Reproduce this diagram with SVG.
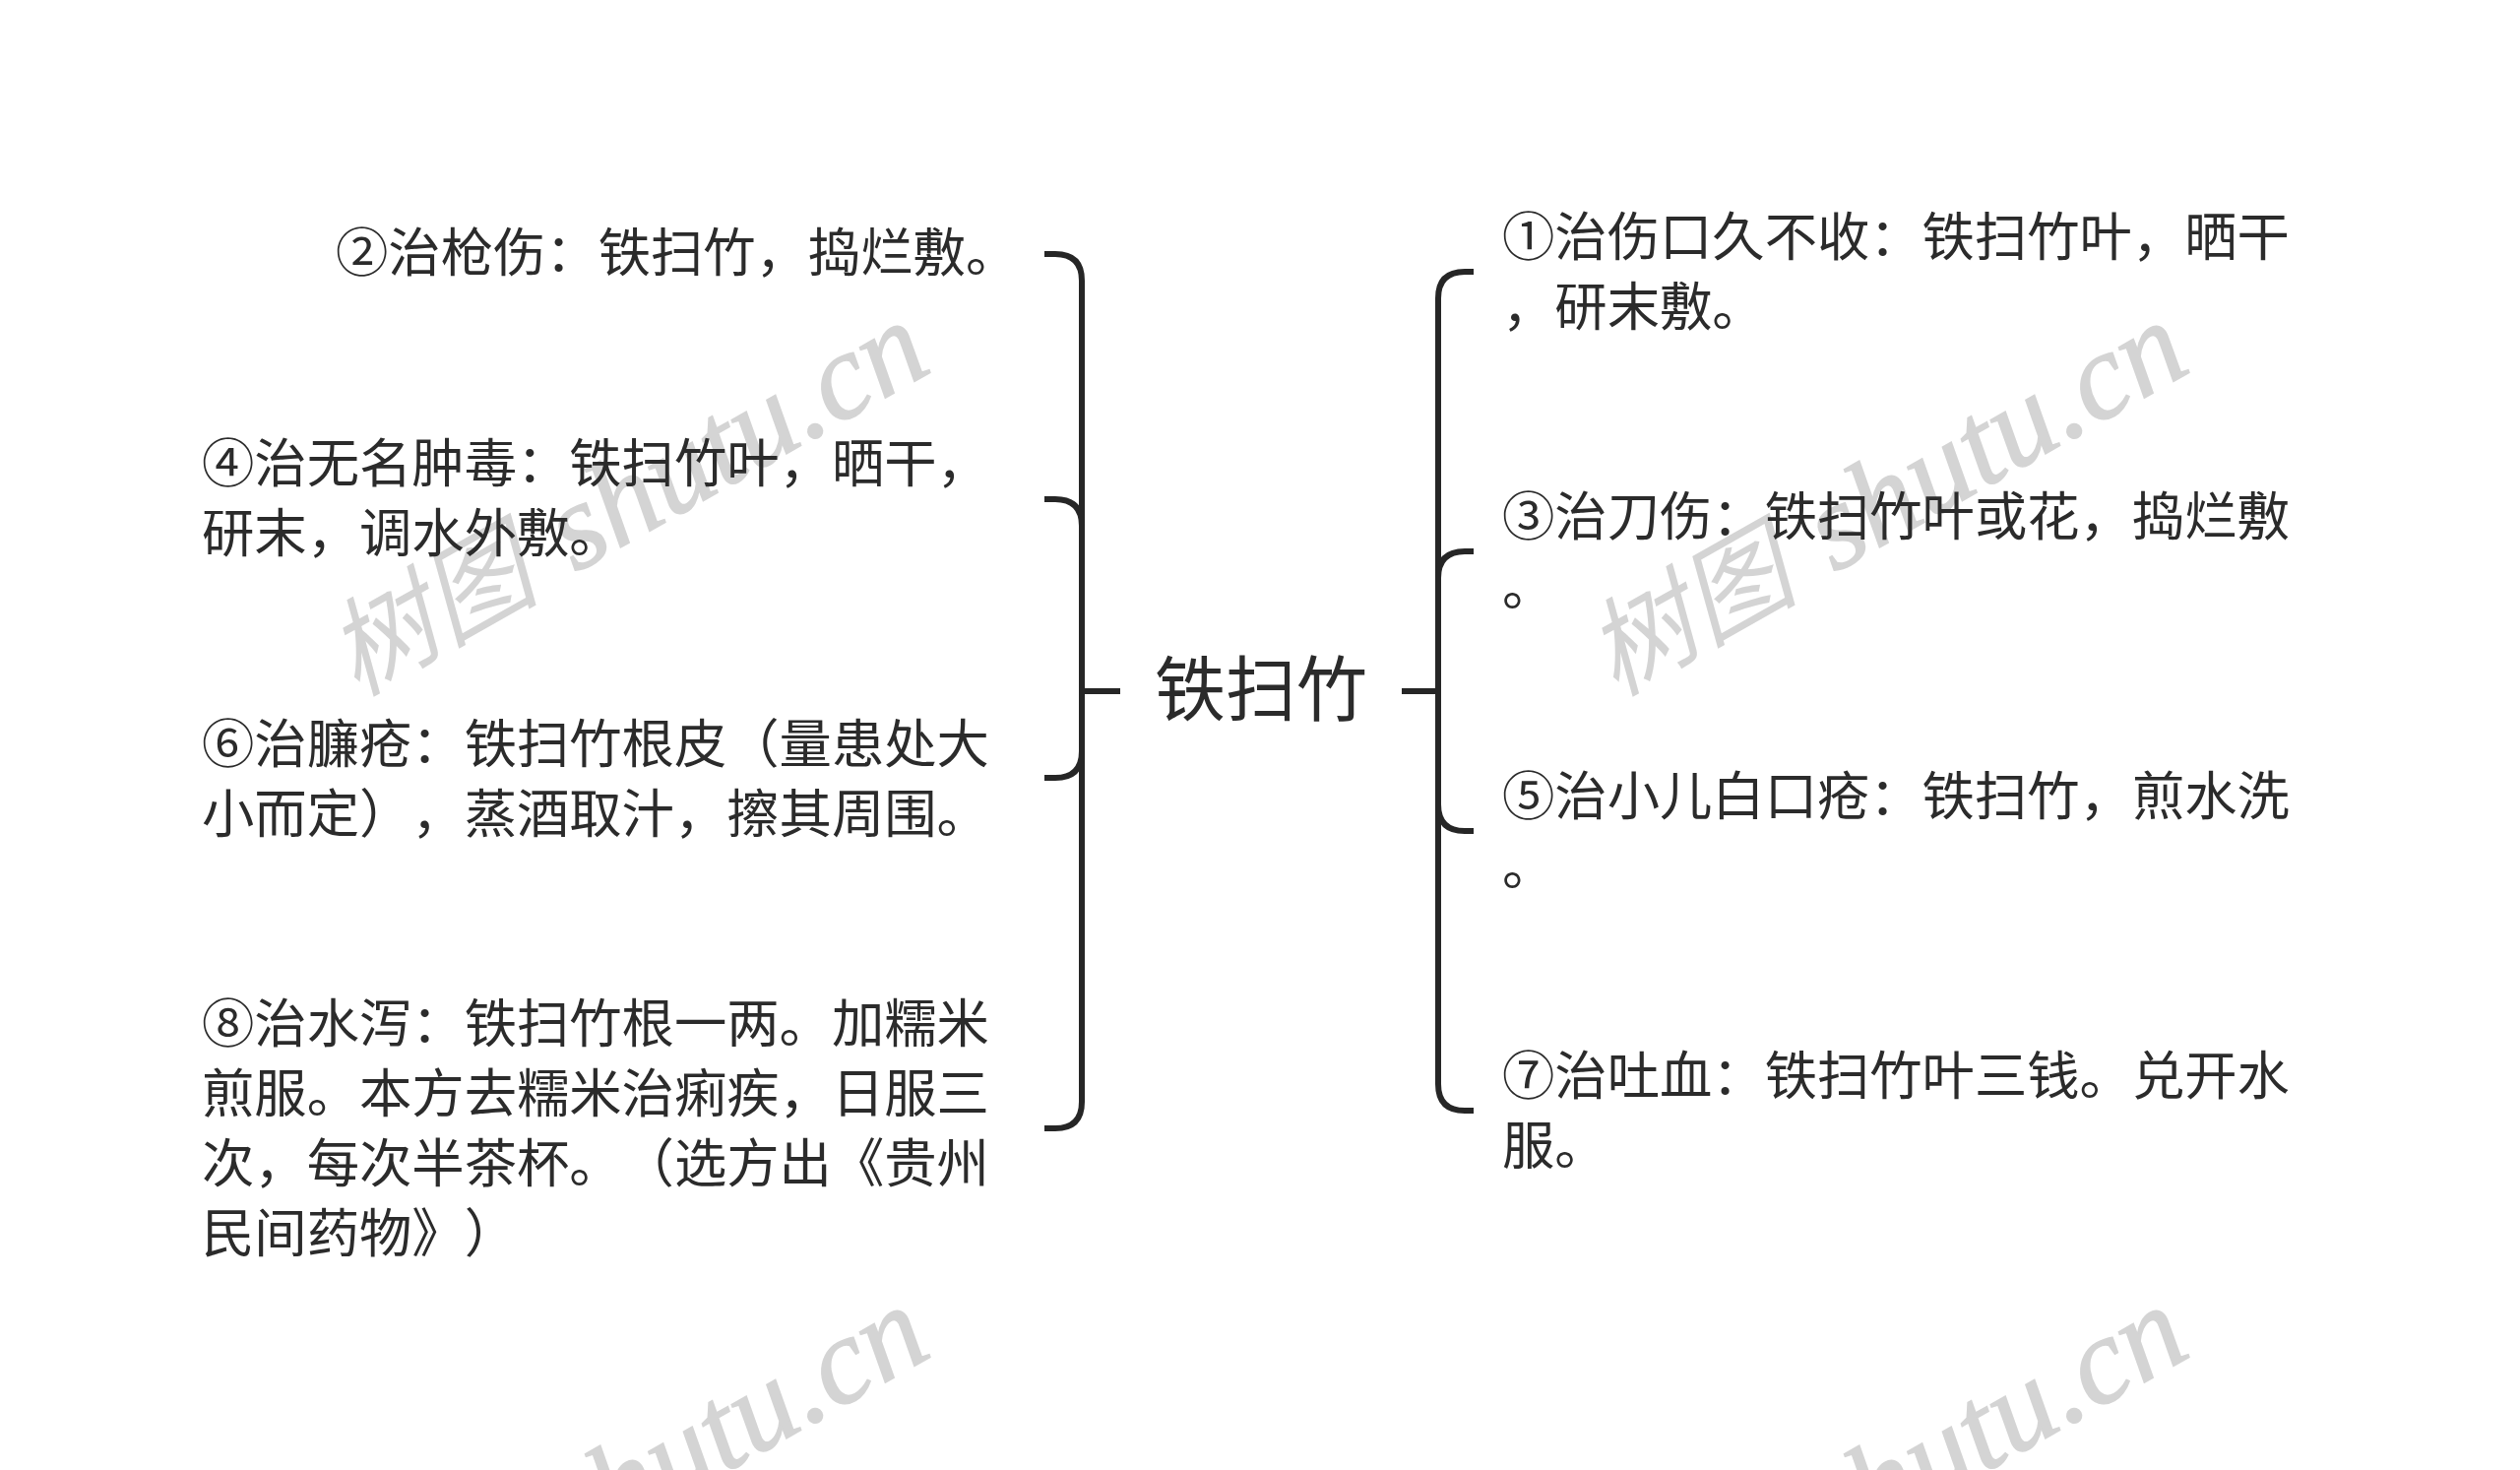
<svg xmlns="http://www.w3.org/2000/svg" width="2560" height="1493" viewBox="0 0 2560 1493">
<style>
.t{font-family:"Noto Sans CJK SC","Noto Sans",sans-serif;font-size:53.33px;font-weight:400;fill:#2b2b2b;text-spacing-trim:space-all;font-kerning:none}
.c{fill:none;stroke:#262626;stroke-width:6}
.w{font-family:"Liberation Serif","Noto Sans CJK SC",serif;font-style:italic;font-size:125px;fill:#d4d4d4;stroke:#d4d4d4;stroke-width:1.5}
.w .z{font-family:"Noto Sans CJK SC",serif;font-size:108px;font-weight:400;stroke:none}
</style>
<rect width="2560" height="1493" fill="#fff"/>
<g id="watermarks">
<text class="w" transform="translate(362 708) rotate(-29.5)"><tspan class="z">树图</tspan> <tspan dx="8">shutu.cn</tspan></text>
<text class="w" transform="translate(1641 708) rotate(-29.5)"><tspan class="z">树图</tspan> <tspan dx="8">shutu.cn</tspan></text>
<text class="w" transform="translate(362 1708) rotate(-29.5)"><tspan class="z">树图</tspan> <tspan dx="8">shutu.cn</tspan></text>
<text class="w" transform="translate(1641 1708) rotate(-29.5)"><tspan class="z">树图</tspan> <tspan dx="8">shutu.cn</tspan></text>
</g>
<g id="connectors">
<path class="c" d="M1061 258H1072Q1099 258 1099 285V1119Q1099 1146 1072 1146H1061"/>
<path class="c" d="M1061 507H1072Q1099 507 1099 534V763Q1099 790 1072 790H1061"/>
<path class="c" d="M1099 702H1138"/>
<path class="c" d="M1497 276H1488Q1461 276 1461 303V1101Q1461 1128 1488 1128H1497"/>
<path class="c" d="M1497 560H1488Q1461 560 1461 587V817Q1461 844 1488 844H1497"/>
<path class="c" d="M1424 702H1461"/>
</g>
<g id="root"><text class="t" x="1173" y="726" style="font-size:72px">铁扫竹</text></g>
<g id="n2"><text class="t" x="341" y="276">②治枪伤：铁扫竹，捣烂敷。</text></g>
<g id="n4"><text class="t" x="205" y="490">④治无名肿毒：铁扫竹叶，晒干，</text><text class="t" x="205" y="561">研末，调水外敷。</text></g>
<g id="n6"><text class="t" x="205" y="775">⑥治臁疮：铁扫竹根皮（量患处大</text><text class="t" x="205" y="846">小而定），蒸酒取汁，擦其周围。</text></g>
<g id="n8"><text class="t" x="205" y="1059">⑧治水泻：铁扫竹根一两。加糯米</text><text class="t" x="205" y="1130">煎服。本方去糯米治痢疾，日服三</text><text class="t" x="205" y="1201">次，每次半茶杯。（选方出《贵州</text><text class="t" x="205" y="1272">民间药物》）</text></g>
<g id="n1"><text class="t" x="1526" y="260">①治伤口久不收：铁扫竹叶，晒干</text><text class="t" x="1526" y="331">，研末敷。</text></g>
<g id="n3"><text class="t" x="1526" y="544">③治刀伤：铁扫竹叶或花，捣烂敷</text><text class="t" x="1526" y="615">。</text></g>
<g id="n5"><text class="t" x="1526" y="828">⑤治小儿白口疮：铁扫竹，煎水洗</text><text class="t" x="1526" y="899">。</text></g>
<g id="n7"><text class="t" x="1526" y="1112">⑦治吐血：铁扫竹叶三钱。兑开水</text><text class="t" x="1526" y="1183">服。</text></g>
</svg>
